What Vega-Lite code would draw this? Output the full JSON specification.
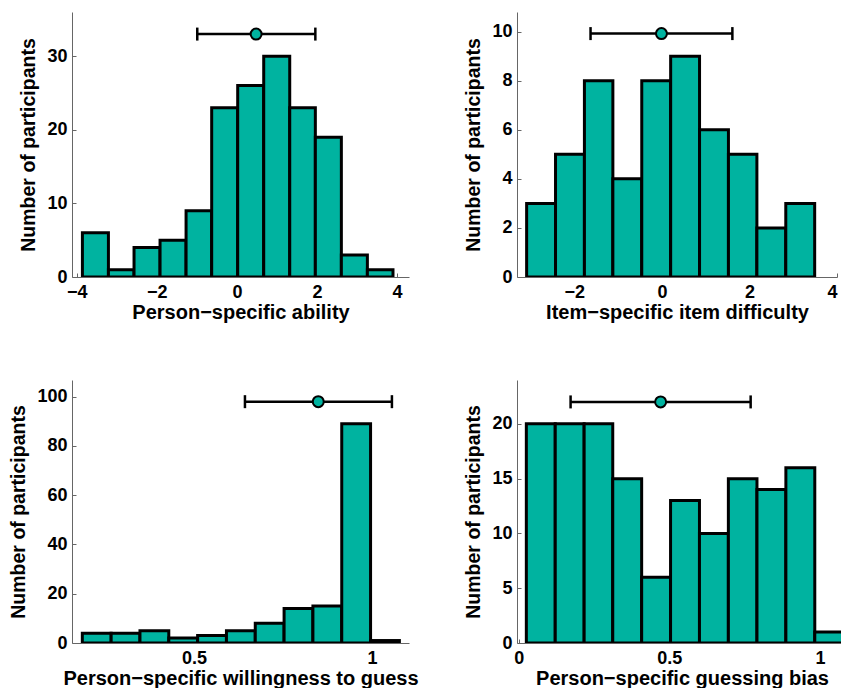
{
  "$schema": "https://vega.github.io/schema/vega-lite/v6.json",
  "background": "white",
  "padding": {"left": 8, "top": 12, "right": 0, "bottom": 0},
  "config": {
    "view": {"stroke": null},
    "axis": {
      "grid": false,
      "domainColor": "#666666",
      "domainWidth": 1,
      "tickColor": "#666666",
      "tickSize": -4,
      "labelFont": "Liberation Sans",
      "labelFontWeight": "bold",
      "labelFontSize": 18,
      "labelColor": "black",
      "labelPadding": 9,
      "titleFont": "Liberation Sans",
      "titleFontWeight": "bold",
      "titleFontSize": 19.5,
      "titleColor": "black"
    },
    "axisX": {"labelPadding": 10, "titlePadding": 1, "titleFontSize": 20},
    "axisY": {"titlePadding": 8}
  },
  "datasets": {
    "ability": [
      {"lo": -3.86, "hi": -3.21, "count": 6},
      {"lo": -3.21, "hi": -2.57, "count": 1},
      {"lo": -2.57, "hi": -1.92, "count": 4},
      {"lo": -1.92, "hi": -1.27, "count": 5},
      {"lo": -1.27, "hi": -0.63, "count": 9},
      {"lo": -0.63, "hi": 0.02, "count": 23},
      {"lo": 0.02, "hi": 0.67, "count": 26},
      {"lo": 0.67, "hi": 1.32, "count": 30},
      {"lo": 1.32, "hi": 1.96, "count": 23},
      {"lo": 1.96, "hi": 2.61, "count": 19},
      {"lo": 2.61, "hi": 3.26, "count": 3},
      {"lo": 3.26, "hi": 3.9, "count": 1}
    ],
    "ability_eb": [{"lo": -0.99, "hi": 1.96, "mean": 0.48, "y": 33}],
    "item": [
      {"lo": -3.09, "hi": -2.43, "count": 3},
      {"lo": -2.43, "hi": -1.77, "count": 5},
      {"lo": -1.77, "hi": -1.12, "count": 8},
      {"lo": -1.12, "hi": -0.46, "count": 4},
      {"lo": -0.46, "hi": 0.2, "count": 8},
      {"lo": 0.2, "hi": 0.86, "count": 9},
      {"lo": 0.86, "hi": 1.52, "count": 6},
      {"lo": 1.52, "hi": 2.17, "count": 5},
      {"lo": 2.17, "hi": 2.83, "count": 2},
      {"lo": 2.83, "hi": 3.49, "count": 3}
    ],
    "item_eb": [{"lo": -1.63, "hi": 1.61, "mean": -0.01, "y": 9.92}],
    "guess": [
      {"lo": 0.186, "hi": 0.267, "count": 4},
      {"lo": 0.267, "hi": 0.348, "count": 4},
      {"lo": 0.348, "hi": 0.429, "count": 5},
      {"lo": 0.429, "hi": 0.51, "count": 2},
      {"lo": 0.51, "hi": 0.591, "count": 3},
      {"lo": 0.591, "hi": 0.672, "count": 5},
      {"lo": 0.672, "hi": 0.753, "count": 8},
      {"lo": 0.753, "hi": 0.834, "count": 14},
      {"lo": 0.834, "hi": 0.915, "count": 15},
      {"lo": 0.915, "hi": 0.996, "count": 89},
      {"lo": 0.996, "hi": 1.077, "count": 1}
    ],
    "guess_eb": [{"lo": 0.643, "hi": 1.056, "mean": 0.849, "y": 98}],
    "bias": [
      {"lo": 0.025, "hi": 0.121, "count": 20},
      {"lo": 0.121, "hi": 0.217, "count": 20},
      {"lo": 0.217, "hi": 0.312, "count": 20},
      {"lo": 0.312, "hi": 0.408, "count": 15},
      {"lo": 0.408, "hi": 0.504, "count": 6},
      {"lo": 0.504, "hi": 0.6, "count": 13},
      {"lo": 0.6, "hi": 0.696, "count": 10},
      {"lo": 0.696, "hi": 0.791, "count": 15},
      {"lo": 0.791, "hi": 0.887, "count": 14},
      {"lo": 0.887, "hi": 0.983, "count": 16},
      {"lo": 0.983, "hi": 1.079, "count": 1}
    ],
    "bias_eb": [{"lo": 0.172, "hi": 0.77, "mean": 0.471, "y": 22}]
  },
  "columns": 2,
  "bounds": "flush",
  "spacing": {"row": 103, "column": 108},
  "concat": [
    {
      "width": 337, "height": 265,
      "layer": [
        {"data": {"name": "ability"},
         "mark": {"type": "bar", "fill": "#00b3a0", "stroke": "black", "strokeWidth": 3, "clip": true},
         "encoding": {
           "x": {"field": "lo", "type": "quantitative", "scale": {"domain": [-4.12, 4.3], "nice": false, "zero": false}, "axis": {"values": [-4, -2, 0, 2, 4], "title": "Person−specific ability"}},
           "x2": {"field": "hi"},
           "y": {"field": "count", "type": "quantitative", "scale": {"domain": [0, 36], "nice": false}, "axis": {"values": [0, 10, 20, 30], "title": "Number of participants"}},
           "y2": {"datum": 0}
         }},
        {"data": {"name": "ability_eb"},
         "mark": {"type": "rule", "strokeWidth": 2.5, "color": "black"},
         "encoding": {
           "x": {"field": "lo", "type": "quantitative", "title": "Person−specific ability"},
           "x2": {"field": "hi"},
           "y": {"field": "y", "type": "quantitative", "title": "Number of participants"}
         }},
        {"data": {"name": "ability_eb"},
         "transform": [{"fold": ["lo", "hi"]}],
         "mark": {"type": "tick", "orient": "vertical", "size": 13, "thickness": 2.5, "color": "black", "opacity": 1},
         "encoding": {
           "x": {"field": "value", "type": "quantitative", "title": "Person−specific ability"},
           "y": {"field": "y", "type": "quantitative", "title": "Number of participants"}
         }},
        {"data": {"name": "ability_eb"},
         "mark": {"type": "point", "shape": "circle", "filled": true, "fill": "#00b3a0", "stroke": "black", "strokeWidth": 2, "size": 120, "opacity": 1},
         "encoding": {
           "x": {"field": "mean", "type": "quantitative", "title": "Person−specific ability"},
           "y": {"field": "y", "type": "quantitative", "title": "Number of participants"}
         }}
      ]
    },
    {
      "width": 320, "height": 265,
      "layer": [
        {"data": {"name": "item"},
         "mark": {"type": "bar", "fill": "#00b3a0", "stroke": "black", "strokeWidth": 3, "clip": true},
         "encoding": {
           "x": {"field": "lo", "type": "quantitative", "scale": {"domain": [-3.31, 4.0], "nice": false, "zero": false}, "axis": {"values": [-2, 0, 2, 4], "title": "Item−specific item difficulty"}},
           "x2": {"field": "hi"},
           "y": {"field": "count", "type": "quantitative", "scale": {"domain": [0, 10.8], "nice": false}, "axis": {"values": [0, 2, 4, 6, 8, 10], "title": "Number of participants"}},
           "y2": {"datum": 0}
         }},
        {"data": {"name": "item_eb"},
         "mark": {"type": "rule", "strokeWidth": 2.5, "color": "black"},
         "encoding": {
           "x": {"field": "lo", "type": "quantitative", "title": "Item−specific item difficulty"},
           "x2": {"field": "hi"},
           "y": {"field": "y", "type": "quantitative", "title": "Number of participants"}
         }},
        {"data": {"name": "item_eb"},
         "transform": [{"fold": ["lo", "hi"]}],
         "mark": {"type": "tick", "orient": "vertical", "size": 13, "thickness": 2.5, "color": "black", "opacity": 1},
         "encoding": {
           "x": {"field": "value", "type": "quantitative", "title": "Item−specific item difficulty"},
           "y": {"field": "y", "type": "quantitative", "title": "Number of participants"}
         }},
        {"data": {"name": "item_eb"},
         "mark": {"type": "point", "shape": "circle", "filled": true, "fill": "#00b3a0", "stroke": "black", "strokeWidth": 2, "size": 120, "opacity": 1},
         "encoding": {
           "x": {"field": "mean", "type": "quantitative", "title": "Item−specific item difficulty"},
           "y": {"field": "y", "type": "quantitative", "title": "Number of participants"}
         }}
      ]
    },
    {
      "width": 337, "height": 263,
      "layer": [
        {"data": {"name": "guess"},
         "mark": {"type": "bar", "fill": "#00b3a0", "stroke": "black", "strokeWidth": 3, "clip": true},
         "encoding": {
           "x": {"field": "lo", "type": "quantitative", "scale": {"domain": [0.157, 1.104], "nice": false, "zero": false}, "axis": {"values": [0.5, 1], "format": "~g", "title": "Person−specific willingness to guess"}},
           "x2": {"field": "hi"},
           "y": {"field": "count", "type": "quantitative", "scale": {"domain": [0, 106.8], "nice": false}, "axis": {"values": [0, 20, 40, 60, 80, 100], "title": "Number of participants"}},
           "y2": {"datum": 0}
         }},
        {"data": {"name": "guess_eb"},
         "mark": {"type": "rule", "strokeWidth": 2.5, "color": "black"},
         "encoding": {
           "x": {"field": "lo", "type": "quantitative", "title": "Person−specific willingness to guess"},
           "x2": {"field": "hi"},
           "y": {"field": "y", "type": "quantitative", "title": "Number of participants"}
         }},
        {"data": {"name": "guess_eb"},
         "transform": [{"fold": ["lo", "hi"]}],
         "mark": {"type": "tick", "orient": "vertical", "size": 13, "thickness": 2.5, "color": "black", "opacity": 1},
         "encoding": {
           "x": {"field": "value", "type": "quantitative", "title": "Person−specific willingness to guess"},
           "y": {"field": "y", "type": "quantitative", "title": "Number of participants"}
         }},
        {"data": {"name": "guess_eb"},
         "mark": {"type": "point", "shape": "circle", "filled": true, "fill": "#00b3a0", "stroke": "black", "strokeWidth": 2, "size": 120, "opacity": 1},
         "encoding": {
           "x": {"field": "mean", "type": "quantitative", "title": "Person−specific willingness to guess"},
           "y": {"field": "y", "type": "quantitative", "title": "Number of participants"}
         }}
      ]
    },
    {
      "width": 330, "height": 263,
      "layer": [
        {"data": {"name": "bias"},
         "mark": {"type": "bar", "fill": "#00b3a0", "stroke": "black", "strokeWidth": 3, "clip": true},
         "encoding": {
           "x": {"field": "lo", "type": "quantitative", "scale": {"domain": [-0.006, 1.09], "nice": false, "zero": false}, "axis": {"values": [0, 0.5, 1], "format": "~g", "title": "Person−specific guessing bias"}},
           "x2": {"field": "hi"},
           "y": {"field": "count", "type": "quantitative", "scale": {"domain": [0, 24], "nice": false}, "axis": {"values": [0, 5, 10, 15, 20], "title": "Number of participants"}},
           "y2": {"datum": 0}
         }},
        {"data": {"name": "bias_eb"},
         "mark": {"type": "rule", "strokeWidth": 2.5, "color": "black"},
         "encoding": {
           "x": {"field": "lo", "type": "quantitative", "title": "Person−specific guessing bias"},
           "x2": {"field": "hi"},
           "y": {"field": "y", "type": "quantitative", "title": "Number of participants"}
         }},
        {"data": {"name": "bias_eb"},
         "transform": [{"fold": ["lo", "hi"]}],
         "mark": {"type": "tick", "orient": "vertical", "size": 13, "thickness": 2.5, "color": "black", "opacity": 1},
         "encoding": {
           "x": {"field": "value", "type": "quantitative", "title": "Person−specific guessing bias"},
           "y": {"field": "y", "type": "quantitative", "title": "Number of participants"}
         }},
        {"data": {"name": "bias_eb"},
         "mark": {"type": "point", "shape": "circle", "filled": true, "fill": "#00b3a0", "stroke": "black", "strokeWidth": 2, "size": 120, "opacity": 1},
         "encoding": {
           "x": {"field": "mean", "type": "quantitative", "title": "Person−specific guessing bias"},
           "y": {"field": "y", "type": "quantitative", "title": "Number of participants"}
         }}
      ]
    }
  ]
}
